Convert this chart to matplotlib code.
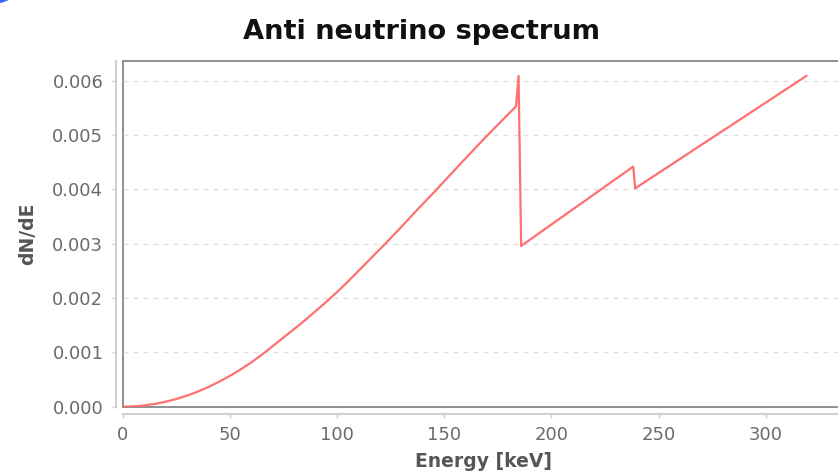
import matplotlib
matplotlib.use("Agg")
import matplotlib.pyplot as plt
from matplotlib.patches import Ellipse

# spectrum (energy in keV, dN/dE)
energy = [0, 5, 10, 15, 20, 25, 30, 35, 40, 45, 50, 55, 60, 66, 73, 80, 85, 90,
          95, 100, 105, 111, 117, 123, 130, 138, 146.5, 158, 170, 177, 183.5,
          184.7, 185.9, 238.2, 239.1, 319]
dnde = [0, 0.0000057, 0.000023, 0.000051, 0.000091, 0.000142, 0.000204,
        0.000278, 0.000363, 0.00046, 0.000567, 0.000686, 0.000815, 0.00099,
        0.00121, 0.00143, 0.00159, 0.00176, 0.00193, 0.00211, 0.0023, 0.00254,
        0.00278, 0.00302, 0.00331, 0.00365, 0.004, 0.00449, 0.00499, 0.00527,
        0.00553, 0.00609, 0.00296, 0.00442, 0.00402, 0.00609]

x_ticks = [0, 50, 100, 150, 200, 250, 300]
y_ticks = [0, 0.001, 0.002, 0.003, 0.004, 0.005, 0.006]

W, H = 838, 475
fig = plt.figure(figsize=(W / 100, H / 100), dpi=100)

# axes box in pixels (right side runs past the edge of the image)
left, right, top, bottom = 122.7, 845, 60.7, 406.7
ax = fig.add_axes([left / W, 1 - bottom / H, (right - left) / W, (bottom - top) / H])

ax.plot(energy, dnde, color="#ff7070", lw=1.6)

ax.set_xlim(0, 337)
ax.set_ylim(0, 0.00637)
ax.set_xticks(x_ticks)
ax.set_yticks(y_ticks)
ax.set_yticklabels([f"{v:.3f}" for v in y_ticks])

# inner frame
ax.patch.set_edgecolor("#858585")
ax.patch.set_linewidth(1.3)

# offset axis lines
for side in ["top", "right"]:
    ax.spines[side].set_visible(False)
for side in ["left", "bottom"]:
    ax.spines[side].set_position(("outward", 5))
    ax.spines[side].set_color("#d0d0d0")
    ax.spines[side].set_linewidth(1.5)

ax.tick_params(axis="both", colors="#d0d0d0", length=3, width=1,
               labelcolor="#6b6b6b", labelsize=13, pad=6)

ax.grid(axis="y", color="#dedede", lw=0.9, linestyle=(0, (4, 4)))
ax.set_axisbelow(True)

ax.set_xlabel("Energy [keV]", fontsize=13.5, fontweight="bold", color="#555555")
ax.xaxis.set_label_coords(0.5, -0.132)
ax.set_ylabel("dN/dE", fontsize=13.5, fontweight="bold", color="#555555")
ax.yaxis.set_label_coords(-0.118, 0.5)

fig.text(421.5 / W, 1 - 39 / H, "Anti neutrino spectrum", ha="center",
         va="baseline", fontsize=19.6, fontweight="bold", color="#111111")

# bit of blue in the top-left corner
fig.patches.append(Ellipse((-6 / W, 1 + 27 / H), 60 / W, 60 / H,
                           transform=fig.transFigure, color="#3b66f5"))

fig.savefig("out.png", dpi=100)
